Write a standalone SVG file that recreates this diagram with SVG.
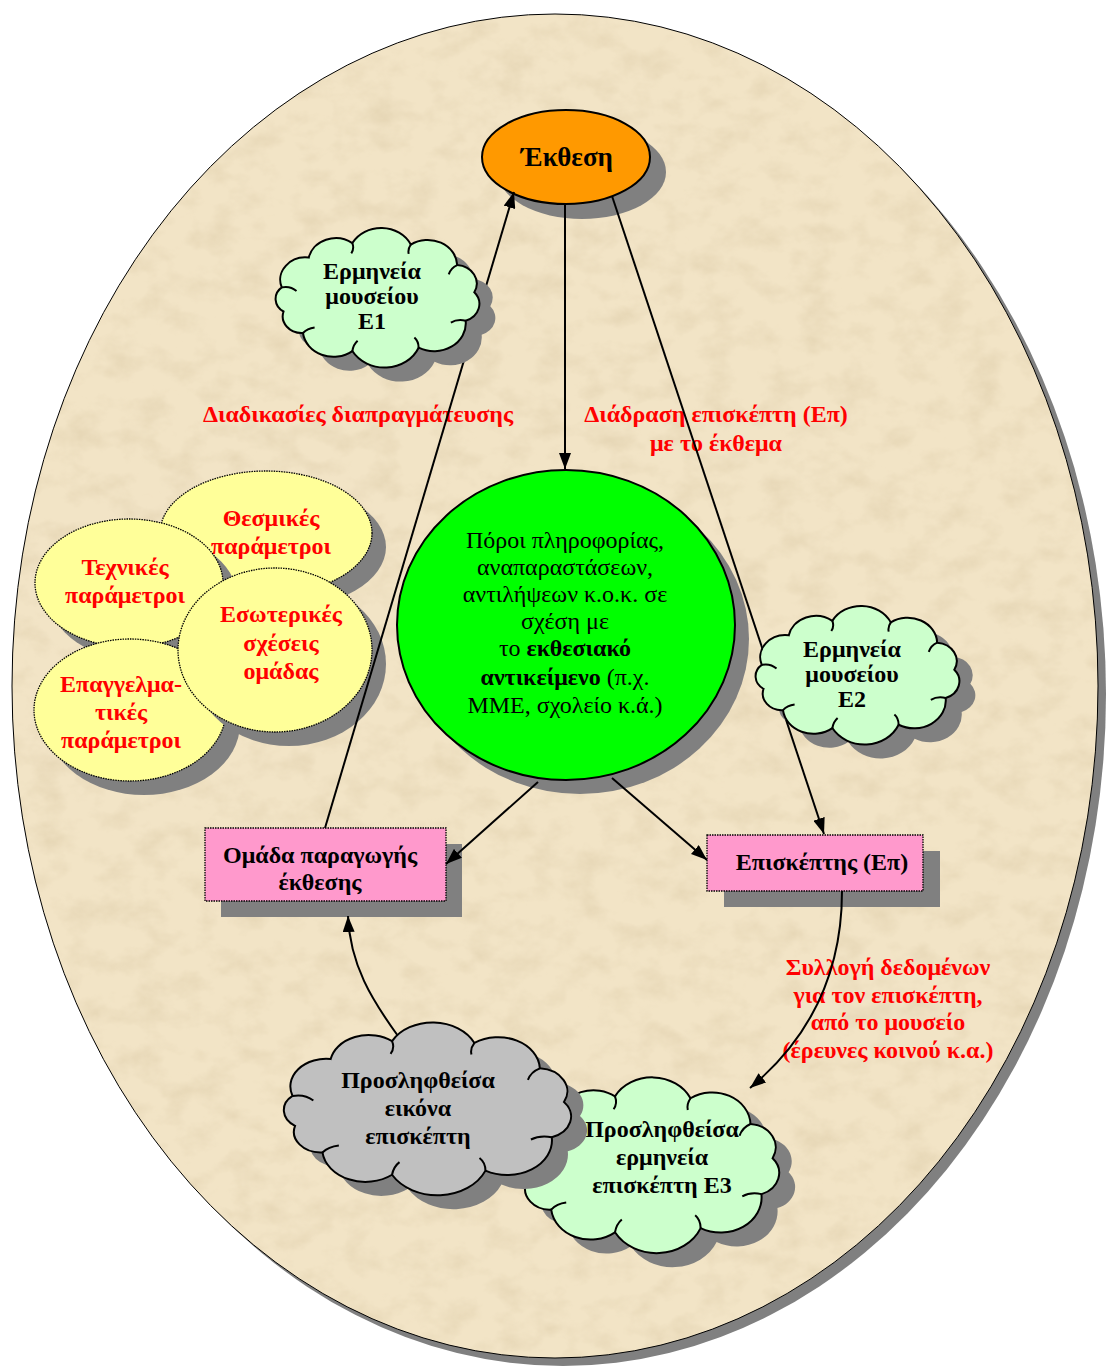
<svg xmlns="http://www.w3.org/2000/svg" width="1107" height="1367" viewBox="0 0 1107 1367">
<defs>
<style>
.sh{fill:#808080;stroke:none}
.t{font-family:"Liberation Serif","Times New Roman",serif;font-weight:bold;font-size:24px;text-anchor:middle;fill:#000}
.r{fill:#ff0000}
.n{font-weight:normal}
.conn{stroke:#000;stroke-width:2;fill:none}
.yel{fill:#ffff99;stroke:#000;stroke-width:1.3;stroke-dasharray:1.5 1}
.pink{fill:#ff99cc;stroke:#000;stroke-width:1.3;stroke-dasharray:1.5 1}
.cl{stroke:#000}
</style>
<marker id="ah" viewBox="0 0 16 12" refX="16" refY="6" markerWidth="16" markerHeight="12" orient="auto" markerUnits="userSpaceOnUse">
<path d="M0,0 L16,6 L0,12 z" fill="#000"/>
</marker>
<filter id="paper" x="0" y="0" width="100%" height="100%">
<feTurbulence type="fractalNoise" baseFrequency="0.03 0.04" numOctaves="4" seed="11" result="n"/>
<feColorMatrix in="n" type="matrix" values="0 0 0 0 0.64  0 0 0 0 0.52  0 0 0 0 0.32  0.7 0 0 0 -0.3" result="c"/>
<feComposite in="c" in2="SourceGraphic" operator="in"/>
</filter>
<g id="cloud">
<path vector-effect="non-scaling-stroke" stroke-width="2" d="M9.4,59.6 A24,24 0 0 1 35,27.6 A26,26 0 0 1 76.2,12 A31,31 0 0 1 131.5,13.6 A28,28 0 0 1 175.4,35.6 A20,20 0 0 1 191.6,64.8 A19,19 0 0 1 183.4,95.4 A30,30 0 0 1 138.9,124.4 A35,35 0 0 1 76.2,128 A29,29 0 0 1 29.5,108.6 A18,18 0 0 1 11.1,85.5 A16,16 0 0 1 9.4,59.6 Z"/>
<path vector-effect="non-scaling-stroke" stroke-width="2" fill="none" d="M9.4,59.6 q8,-2 14,4 M76.2,12 q2,6 -1,11 M131.5,13.6 q-3,5 -2,10 M175.4,35.6 q-6,3 -8,10 M183.4,95.4 q-8,-2 -14,2 M138.9,124.4 q0,-7 -4,-11 M76.2,128 q1,-7 5,-11 M29.5,108.6 q4,-5 11,-6"/>
</g>
</defs>

<g id="background">
<ellipse cx="563" cy="694" rx="543" ry="672" fill="#808080"/>
<ellipse cx="555" cy="686" rx="543" ry="672" fill="#f2e4c6"/>
<ellipse cx="555" cy="686" rx="543" ry="672" fill="#000" filter="url(#paper)"/>
<ellipse cx="555" cy="686" rx="543" ry="672" fill="none" stroke="#000" stroke-width="1"/>
</g>

<g id="node-thesmikes">
<ellipse class="sh" cx="280" cy="547" rx="106" ry="62"/>
<ellipse class="yel" cx="266" cy="533" rx="106" ry="62"/>
<text class="t r" x="271" y="526">Θεσμικές</text>
<text class="t r" x="271" y="554">παράμετροι</text>
</g>
<g id="node-technikes">
<ellipse class="sh" cx="143" cy="597" rx="94" ry="64"/>
<ellipse class="yel" cx="129" cy="583" rx="94" ry="64"/>
<text class="t r" x="125" y="575">Τεχνικές</text>
<text class="t r" x="125" y="603">παράμετροι</text>
</g>
<g id="node-epaggelmatikes">
<ellipse class="sh" cx="144" cy="724" rx="96" ry="71"/>
<ellipse class="yel" cx="130" cy="710" rx="96" ry="71"/>
<text class="t r" x="121" y="692">Επαγγελμα-</text>
<text class="t r" x="121" y="720">τικές</text>
<text class="t r" x="121" y="748">παράμετροι</text>
</g>
<g id="node-esoterikes">
<ellipse class="sh" cx="289" cy="664" rx="97" ry="82"/>
<ellipse class="yel" cx="275" cy="650" rx="97" ry="82"/>
<text class="t r" x="281" y="622">Εσωτερικές</text>
<text class="t r" x="281" y="651">σχέσεις</text>
<text class="t r" x="281" y="679">ομάδας</text>
</g>

<g id="labels">
<text class="t r" x="358" y="422">Διαδικασίες διαπραγμάτευσης</text>
<text class="t r" x="716" y="422">Διάδραση επισκέπτη (Επ)</text>
<text class="t r" x="716" y="451">με το έκθεμα</text>
<text class="t r" x="888" y="975">Συλλογή δεδομένων</text>
<text class="t r" x="888" y="1003">για τον επισκέπτη,</text>
<text class="t r" x="888" y="1030">από το μουσείο</text>
<text class="t r" x="888" y="1058">(έρευνες κοινού κ.α.)</text>
</g>

<g id="node-poroi">
<ellipse class="sh" cx="580" cy="639" rx="169" ry="155"/>
<ellipse cx="566" cy="625" rx="169" ry="155" fill="#00ff00" stroke="#000" stroke-width="2"/>
<text class="t n" x="565" y="548">Πόροι πληροφορίας,</text>
<text class="t n" x="565" y="575">αναπαραστάσεων,</text>
<text class="t n" x="565" y="602">αντιλήψεων κ.ο.κ. σε</text>
<text class="t n" x="565" y="629">σχέση με</text>
<text class="t" x="565" y="656"><tspan class="n">το </tspan>εκθεσιακό</text>
<text class="t" x="565" y="685">αντικείμενο<tspan class="n"> (π.χ.</tspan></text>
<text class="t n" x="565" y="713">ΜΜΕ, σχολείο κ.ά.)</text>
</g>

<g id="node-ekthesi">
<ellipse class="sh" cx="582" cy="172" rx="84" ry="47"/>
<ellipse cx="566" cy="157" rx="84" ry="47" fill="#ff9900" stroke="#000" stroke-width="2"/>
<text class="t" x="567" y="166" style="font-size:27px">Έκθεση</text>
</g>

<g id="node-omada">
<rect class="sh" x="221" y="844" width="241" height="73"/>
<rect class="pink" x="205" y="828" width="241" height="73"/>
<text class="t" x="320" y="863">Ομάδα παραγωγής</text>
<text class="t" x="320" y="890">έκθεσης</text>
</g>

<g id="node-episkeptis">
<rect class="sh" x="724" y="851" width="216" height="56"/>
<rect class="pink" x="707" y="835" width="216" height="56"/>
<text class="t" x="822" y="870">Επισκέπτης (Επ)</text>
</g>

<g id="connectors">
<line class="conn" x1="325" y1="828" x2="514" y2="192" marker-end="url(#ah)"/>
<line class="conn" x1="565" y1="205" x2="565" y2="469" marker-end="url(#ah)"/>
<line class="conn" x1="612" y1="196" x2="824" y2="834" marker-end="url(#ah)"/>
<line class="conn" x1="538" y1="782" x2="446" y2="864" marker-end="url(#ah)"/>
<line class="conn" x1="612" y1="778" x2="707" y2="860" marker-end="url(#ah)"/>
<path class="conn" d="M842,891 C842,960 820,1030 750,1088" marker-end="url(#ah)"/>
<path class="conn" d="M398,1036 C372,1000 350,965 348,916" marker-end="url(#ah)"/>
</g>

<g id="node-e1">
<use href="#cloud" class="sh" transform="translate(287.8,245.9) scale(1.057,0.931)"/>
<use href="#cloud" class="cl" fill="#ccffcc" transform="translate(271.8,231.9) scale(1.057,0.931)"/>
<text class="t" x="372" y="279">Ερμηνεία</text>
<text class="t" x="372" y="304">μουσείου</text>
<text class="t" x="372" y="329">Ε1</text>
</g>

<g id="node-e2">
<use href="#cloud" class="sh" transform="translate(767.8,623.8) scale(1.057,0.924)"/>
<use href="#cloud" class="cl" fill="#ccffcc" transform="translate(751.8,609.8) scale(1.057,0.924)"/>
<text class="t" x="852" y="657">Ερμηνεία</text>
<text class="t" x="852" y="682">μουσείου</text>
<text class="t" x="852" y="707">Ε2</text>
</g>

<g id="node-e3">
<use href="#cloud" class="sh" transform="translate(526.9,1096.3) scale(1.366,1.172)"/>
<use href="#cloud" class="cl" fill="#ccffcc" transform="translate(510.9,1082.3) scale(1.366,1.172)"/>
<text class="t" x="662" y="1137">Προσληφθείσα</text>
<text class="t" x="662" y="1165">ερμηνεία</text>
<text class="t" x="662" y="1193">επισκέπτη Ε3</text>
</g>

<g id="node-eikona">
<use href="#cloud" class="sh" transform="translate(294.5,1041.3) scale(1.49,1.152)"/>
<use href="#cloud" class="cl" fill="#c0c0c0" transform="translate(278.5,1027.3) scale(1.49,1.152)"/>
<text class="t" x="418" y="1088">Προσληφθείσα</text>
<text class="t" x="418" y="1116">εικόνα</text>
<text class="t" x="418" y="1144">επισκέπτη</text>
</g>
</svg>
